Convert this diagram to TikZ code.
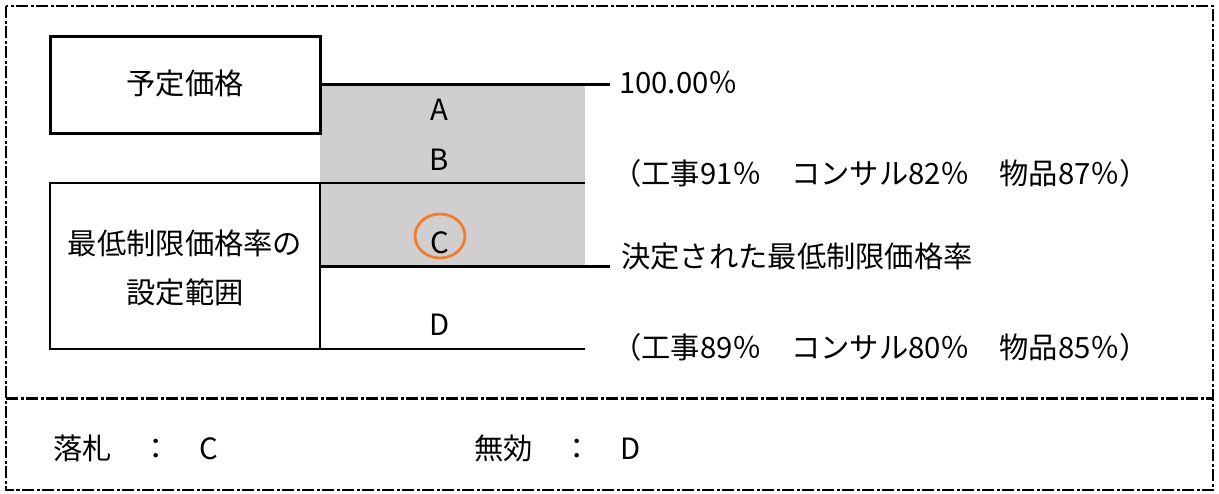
\documentclass[tikz,border=0pt]{standalone}
\usepackage{fontspec}
\setmainfont{Noto Sans CJK JP}
\begin{document}
\begin{tikzpicture}[x=1pt,y=-1pt,
  every node/.style={font=\fontsize{29.3}{49}\selectfont, inner sep=0pt},
  thickline/.style={line width=3pt},
  thinline/.style={line width=1.6pt},
  dashborder/.style={line width=2pt, dash pattern=on 12pt off 2.5pt on 3pt off 2.5pt},
  lbl/.style={anchor=west}
]
\useasboundingbox (0,0) rectangle (1219,493);
% gray band
\fill[fill={rgb,255:red,208;green,206;blue,206}] (320,85) rectangle (585,266);
% boxes
\node[draw, thickline, minimum width=270pt, minimum height=97pt] (yotei) at (185,84.5) {};
\node at (185,83) {予定価格};
\node[draw, thinline, minimum width=270pt, minimum height=166pt] (range) at (185,266) {};
\node[align=center] (rangetext) at (185,267.5) {最低制限価格率の\\設定範囲};
% lines
\coordinate (l1a) at (320,84.5);
\coordinate (l1b) at (610,84.5);
\draw[thickline] (l1a) -- (l1b);
\coordinate (l2a) at (320,183);
\coordinate (l2b) at (585,183);
\draw[thinline] (l2a) -- (l2b);
\coordinate (l3a) at (320,266.5);
\coordinate (l3b) at (610,266.5);
\draw[thickline] (l3a) -- (l3b);
\coordinate (l4a) at (320,349);
\coordinate (l4b) at (585,349);
\draw[thinline] (l4a) -- (l4b);
% letters
\node (A) at (439,110) {A};
\node (B) at (439,160) {B};
\node (C) at (440,243) {C};
\draw[line width=2.8pt, draw={rgb,255:red,237;green,125;blue,49}] (440,236) ellipse [x radius=25pt, y radius=22pt];
\node (D) at (440,325) {D};
% right texts
\node[lbl] (p100) at (619,83) {100.00％};
\node[lbl] (upper) at (612,173) {（工事91％　コンサル82％　物品87％）};
\node[lbl] (decided) at (621,256) {決定された最低制限価格率};
\node[lbl] (lower) at (612,347) {（工事89％　コンサル80％　物品85％）};
% bottom
\node[lbl] (win) at (53,448) {落札　：　C};
\node[lbl] (void) at (474,448) {無効　：　D};
% dashed frames
\draw[dashborder] (6,6) rectangle (1213,490);
\coordinate (dl) at (6,398);
\coordinate (dr) at (1213,398);
\draw[dashborder, line width=3pt] (dl) -- (dr);
\end{tikzpicture}
\end{document}
